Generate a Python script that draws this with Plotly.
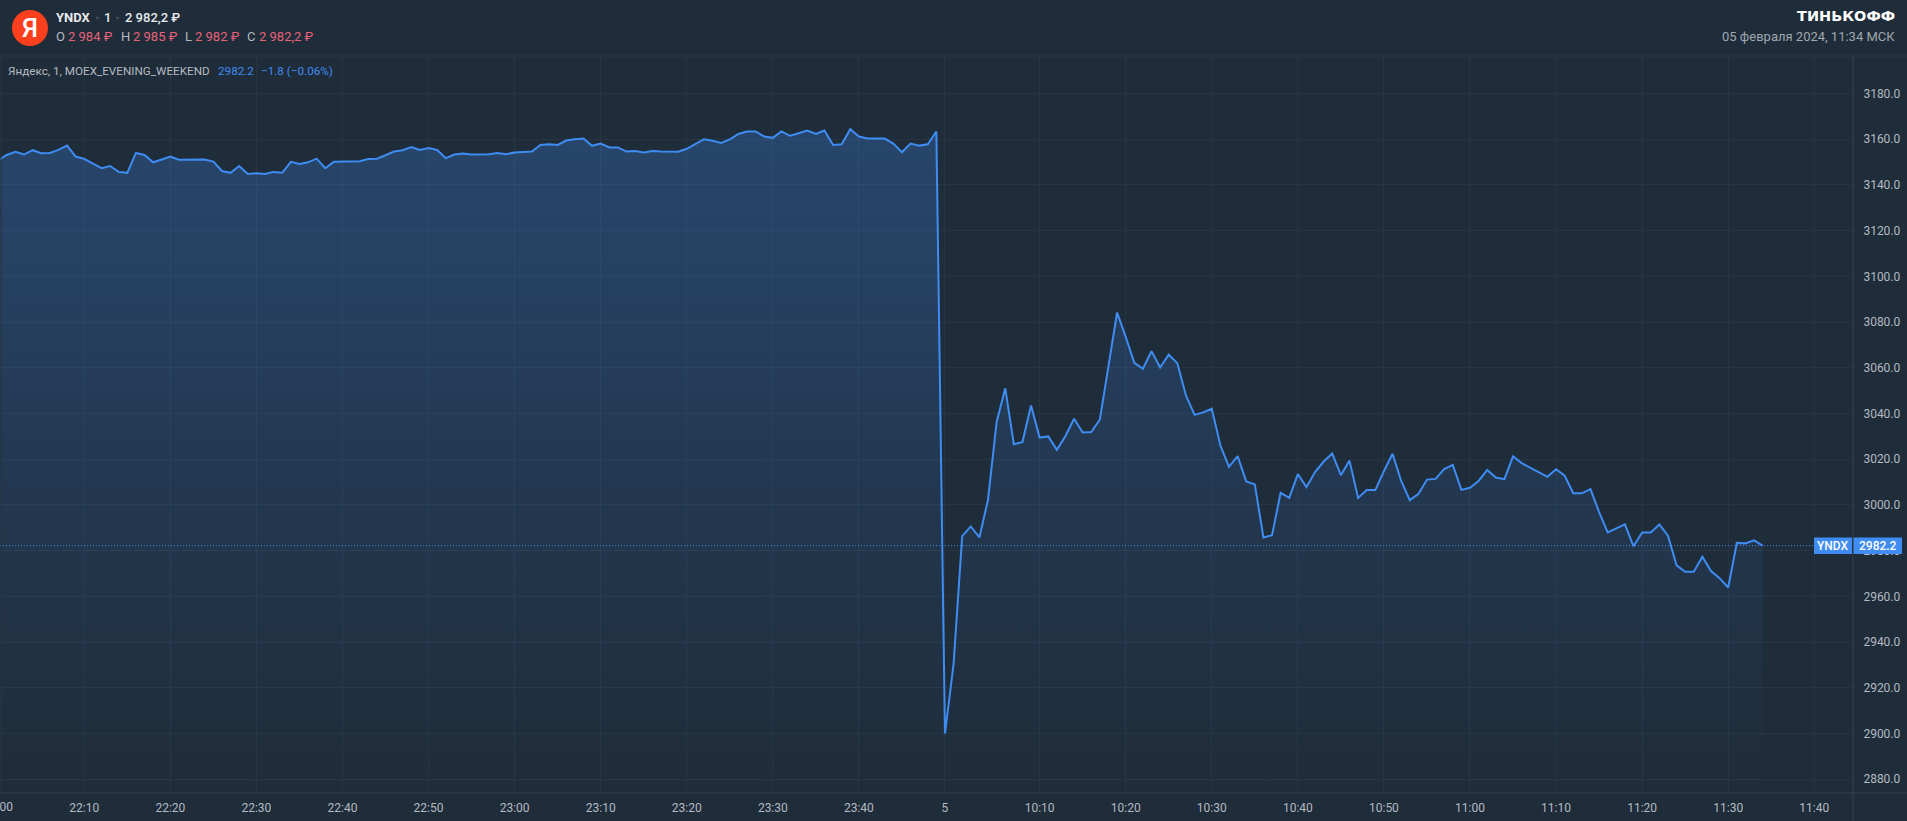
# -*- coding: utf-8 -*-
import plotly.graph_objects as go

COLOR_BG = "#1F2C39"
COLOR_GRID = "#273543"
COLOR_BORDER = "#36434F"
COLOR_LINE = "#3F8CF3"
COLOR_TEXT = "#B4BAC2"
COLOR_RED = "#E8637A"
FONT = "Roboto"

# one minute closes, 22:00 - 23:49 then the new day from the "5" tick
close_evening = [
    3150.8, 3153.1, 3154.5, 3153.3, 3155.2, 3153.9, 3154.0, 3155.3, 3157.2, 3152.4,
    3151.4, 3149.2, 3147.3, 3148.3, 3145.7, 3145.3, 3154.0, 3153.1, 3149.9, 3151.1,
    3152.4, 3151.0, 3151.0, 3151.0, 3151.1, 3150.2, 3146.1, 3145.3, 3148.3, 3144.8,
    3145.1, 3144.8, 3145.7, 3145.3, 3150.1, 3149.2, 3149.9, 3151.5, 3147.3, 3150.1,
    3150.1, 3150.1, 3150.4, 3151.3, 3151.5, 3153.0, 3154.6, 3155.2, 3156.6, 3155.3,
    3156.1, 3155.3, 3151.7, 3153.3, 3153.7, 3153.3, 3153.3, 3153.4, 3154.0, 3153.4,
    3154.2, 3154.5, 3154.6, 3157.5, 3157.8, 3157.5, 3159.4, 3160.0, 3160.3, 3157.1,
    3158.1, 3156.4, 3156.4, 3154.6, 3154.8, 3154.2, 3154.8, 3154.6, 3154.5, 3154.5,
    3155.8, 3157.8, 3160.0, 3159.3, 3158.4, 3159.9, 3162.3, 3163.4, 3163.4, 3161.2,
    3160.6, 3163.4, 3161.5, 3162.6, 3163.8, 3162.3, 3163.8, 3157.5, 3157.8, 3164.4,
    3161.2, 3160.3, 3160.3, 3160.3, 3158.1, 3154.3, 3158.1, 3157.2, 3157.8, 3163.4,
]
close_morning = [
    2900.0, 2930.4, 2986.4, 2990.6, 2985.8, 3002.3, 3036.2, 3051.1, 3026.6, 3027.5,
    3043.5, 3029.5, 3030.0, 3024.1, 3030.2, 3037.7, 3031.7, 3031.9, 3037.4, 3060.5,
    3084.2, 3073.5, 3062.2, 3059.6, 3067.3, 3060.1, 3065.8, 3062.0, 3047.9, 3039.4,
    3040.5, 3042.1, 3026.0, 3016.7, 3021.4, 3010.3, 3009.0, 2985.8, 2986.8, 3005.3,
    3003.1, 3013.5, 3007.8, 3014.4, 3019.0, 3022.5, 3013.0, 3019.4, 3003.1, 3006.5,
    3006.5, 3014.8, 3022.4, 3010.6, 3002.1, 3004.8, 3011.1, 3011.4, 3015.7, 3017.5,
    3006.6, 3007.5, 3010.5, 3015.3, 3012.0, 3011.3, 3021.3, 3018.3, 3016.4, 3014.3,
    3012.3, 3015.6, 3012.8, 3005.1, 3005.1, 3006.9, 2996.9, 2988.0, 2989.8, 2991.5,
    2981.9, 2988.0, 2988.0, 2991.5, 2986.6, 2973.6, 2970.8, 2970.8, 2977.4, 2971.1,
    2968.0, 2963.9, 2983.4, 2983.2, 2984.5, 2982.2,
]
close = close_evening + close_morning
last_close = close[-1]

tick_index = [0, 10, 20, 30, 40, 50, 60, 70, 80, 90, 100, 110,
              121, 131, 141, 151, 161, 171, 181, 191, 201, 211]
tick_labels = ["22:00", "22:10", "22:20", "22:30", "22:40", "22:50", "23:00", "23:10",
               "23:20", "23:30", "23:40", "5", "10:10", "10:20", "10:30", "10:40",
               "10:50", "11:00", "11:10", "11:20", "11:30", "11:40"]
price_ticks = list(range(2880, 3200, 20))

W, H = 1907, 821
PLOT_L, PLOT_R, PLOT_T, PLOT_B = 0, 1853, 56, 793
X_RANGE = [0.21, 215.5]


def px(x):
    return (x - PLOT_L) / (PLOT_R - PLOT_L)


def py(y):
    return (PLOT_B - y) / (PLOT_B - PLOT_T)


fig = go.Figure()
fig.add_trace(go.Scatter(
    x=list(range(len(close))), y=close, mode="lines",
    line=dict(color=COLOR_LINE, width=2),
    fill="tozeroy",
    fillgradient=dict(
        type="vertical", start=2874, stop=3165,
        colorscale=[[0, "rgba(63,140,243,0.0)"], [1, "rgba(63,140,243,0.27)"]],
    ),
    hoverinfo="skip",
))

fig.add_hline(y=last_close, line=dict(color=COLOR_LINE, width=1, dash="1px,2px"))

# frame lines and the logo
for x0, y0, x1, y1, col in [(0, 56, W, 56, "#2B3947"), (0, PLOT_B, W, PLOT_B, COLOR_BORDER),
                            (PLOT_R, 56, PLOT_R, H, COLOR_BORDER), (1, 56, 1, PLOT_B, COLOR_GRID)]:
    fig.add_shape(type="line", xref="paper", yref="paper",
                  x0=px(x0), y0=py(y0), x1=px(x1), y1=py(y1),
                  line=dict(color=col, width=1))
fig.add_shape(type="circle", xref="paper", yref="paper",
              x0=px(12), y0=py(10), x1=px(48), y1=py(46),
              fillcolor="#FC3F1D", line=dict(width=0))


def label(x, y, text, size=13, color=COLOR_TEXT, anchor="left", weight=400, family=FONT):
    fig.add_annotation(xref="paper", yref="paper", x=px(x), y=py(y), text=text,
                       showarrow=False, xanchor=anchor, yanchor="middle", borderpad=0,
                       font=dict(family=family, size=size, color=color, weight=weight))


label(30, 28, "Я", size=26, color="#FFFFFF", anchor="center", weight=500)
label(55, 17.5, "YNDX", weight=700, color="#E8EAED")
label(97, 17.5, "·", size=16, color="#4A5560", anchor="center", weight=700)
label(103, 17.5, "1", color="#E8EAED", weight=500)
label(117, 17.5, "·", size=16, color="#4A5560", anchor="center", weight=700)
label(124, 17.5, "2 982,2 ₽", color="#E8EAED", weight=500)

label(55, 36.5, "O")
label(67, 36.5, "2 984 ₽", color=COLOR_RED)
label(120, 36.5, "H")
label(132, 36.5, "2 985 ₽", color=COLOR_RED)
label(184, 36.5, "L")
label(194, 36.5, "2 982 ₽", color=COLOR_RED)
label(246, 36.5, "C")
label(258, 36.5, "2 982,2 ₽", color=COLOR_RED)

label(7, 71, "Яндекс, 1, MOEX_EVENING_WEEKEND", size=11.7)
label(217, 71, "2982.2", size=11.7, color=COLOR_LINE)
label(260, 71, "−1.8 (−0.06%)", size=11.7, color=COLOR_LINE)

label(1896, 16, "ТИНЬКОФФ", size=14.5, color="#FFFFFF", anchor="right", weight=700,
      family="DejaVu Sans")
label(1896, 36.5, "05 февраля 2024, 11:34 МСК", color="#A0A8B0", anchor="right")

# price tags on the last close
for x0, x1, text in [(1814, 1852, "YNDX"), (1853.5, 1902, "2982.2")]:
    fig.add_shape(type="rect", xref="paper", yref="y",
                  x0=px(x0), x1=px(x1), y0=last_close - 3.6, y1=last_close + 3.6,
                  fillcolor=COLOR_LINE, line=dict(width=0), layer="above")
    fig.add_annotation(xref="paper", yref="y", x=px((x0 + x1) / 2), y=last_close, text=text,
                       showarrow=False, xanchor="center", yanchor="middle",
                       font=dict(family=FONT, size=12, color="#FFFFFF", weight=500))

# the first tick sits just left of the pane, so plotly drops its label: draw it by hand
first_tick = (tick_index[0] - X_RANGE[0]) / (X_RANGE[1] - X_RANGE[0])
fig.add_annotation(xref="paper", yref="paper", x=first_tick, y=py(807), text=tick_labels[0],
                   showarrow=False, xanchor="center", yanchor="middle",
                   font=dict(family=FONT, size=12, color=COLOR_TEXT))

fig.update_xaxes(range=X_RANGE, tickmode="array", tickvals=tick_index,
                 ticktext=tick_labels, showgrid=True, gridcolor=COLOR_GRID, gridwidth=1,
                 zeroline=False, showline=False, ticks="outside", ticklen=4,
                 tickcolor="rgba(0,0,0,0)",
                 tickangle=0, tickfont=dict(family=FONT, size=12, color=COLOR_TEXT))
fig.update_yaxes(range=[2874.0, 3196.4], side="right", tickmode="array", tickvals=price_ticks,
                 ticktext=["%.1f" % p for p in price_ticks],
                 showgrid=True, gridcolor=COLOR_GRID, gridwidth=1,
                 zeroline=False, showline=False, ticks="outside", ticklen=7,
                 tickcolor="rgba(0,0,0,0)",
                 tickfont=dict(family=FONT, size=12, color=COLOR_TEXT))

fig.update_layout(
    width=W, height=H, autosize=False, showlegend=False,
    paper_bgcolor=COLOR_BG, plot_bgcolor=COLOR_BG,
    margin=dict(l=PLOT_L, r=W - PLOT_R, t=PLOT_T, b=H - PLOT_B, pad=0, autoexpand=False),
)

fig.write_html("out.html", config=dict(displayModeBar=False),
               post_script="document.body.style.margin='0';document.body.style.background='%s';" % COLOR_BG)
